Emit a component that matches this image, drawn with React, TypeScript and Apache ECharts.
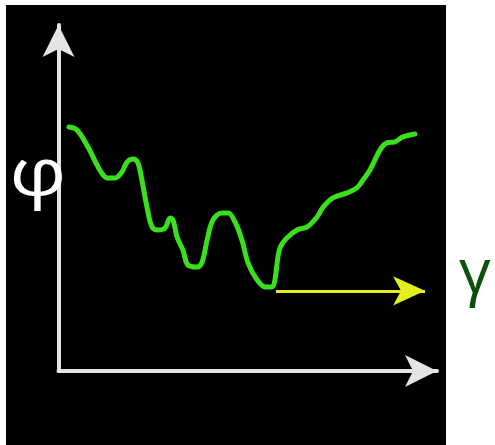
import React, { useEffect, useRef } from "react";
import * as echarts from "echarts";

// Curve φ(γ), in axis units
const gammaValues: number[] = [
  2.9, 5.1, 8.1, 11.4, 13.4, 15.6, 17.5, 18.9, 20.6, 21.9, 23.0, 24.4, 25.8, 27.4, 29.4,
  30.8, 31.6, 32.7, 34.3, 35.7, 38.2, 39.6, 41.0, 42.6, 45.1, 46.8, 48.7, 50.6, 52.3,
  54.8, 57.0, 58.9, 59.7, 60.3, 61.1, 63.0, 65.8, 68.6, 71.3, 73.0, 75.7, 79.6, 82.3,
  84.0, 85.9, 88.7, 90.6, 92.8, 95.0, 98.3,
];
const phiValues: number[] = [
  73.7, 72.8, 67.7, 60.7, 58.3, 58.3, 60.1, 63.1, 64.0, 62.8, 57.7, 49.5, 43.5, 42.6, 43.2,
  46.2, 45.6, 40.5, 36.6, 32.0, 31.4, 32.9, 39.6, 45.6, 47.7, 47.7, 45.0, 39.6, 32.6,
  27.5, 25.4, 25.4, 27.5, 32.6, 37.2, 40.2, 42.6, 43.5, 46.5, 49.5, 52.3, 53.8, 55.3,
  57.7, 60.7, 66.8, 68.9, 69.2, 70.7, 71.6,
];
// Horizontal arrow from the curve minimum
const arrowStart: [number, number] = [60.0, 24.2];
const arrowEnd: [number, number] = [101.1, 24.2];
const xMax = 104.4;
const yMax = 104.5;
const yLabel = "φ";
const xLabel = "γ";

export default function App() {
  const ref = useRef<HTMLDivElement>(null);
  useEffect(() => {
    if (!ref.current) return;
    const chart = echarts.init(ref.current, undefined, { renderer: "svg" });
    const axisLine = {
      show: true,
      symbol: ["none", "arrow"],
      symbolSize: [24, 32],
      lineStyle: { color: "#e4e4e4", width: 4 },
    };
    chart.setOption({
      animation: false,
      backgroundColor: "#ffffff",
      graphic: [
        {
          type: "rect",
          z: -10,
          shape: { x: 6, y: 5, width: 440, height: 440 },
          style: { fill: "#000000" },
          silent: true,
        },
        {
          type: "text",
          z: 10,
          x: 9.5,
          y: 136,
          scaleX: 1.2,
          style: {
            text: yLabel,
            fill: "#ffffff",
            font: "66px 'Open Sans'",
          },
        },
        {
          type: "text",
          z: 10,
          x: 459,
          y: 238,
          style: {
            text: xLabel,
            fill: "#0a520a",
            font: "500 62px 'Open Sans'",
          },
        },
      ],
      grid: { left: 58.5, right: 58, top: 25, bottom: 74, containLabel: false },
      xAxis: {
        type: "value",
        min: 0,
        max: xMax,
        axisLine,
        axisTick: { show: false },
        axisLabel: { show: false },
        splitLine: { show: false },
      },
      yAxis: {
        type: "value",
        min: 0,
        max: yMax,
        axisLine,
        axisTick: { show: false },
        axisLabel: { show: false },
        splitLine: { show: false },
      },
      series: [
        {
          type: "line",
          data: gammaValues.map((g, i) => [g, phiValues[i]]),
          smooth: 0.35,
          showSymbol: false,
          symbol: "none",
          lineStyle: { color: "#3ae01c", width: 5, cap: "round", join: "round" },
          markLine: {
            silent: true,
            symbol: ["none", "arrow"],
            symbolSize: [22, 32],
            label: { show: false },
            lineStyle: { color: "#e3ee1c", width: 3, type: "solid" },
            data: [[{ coord: arrowStart }, { coord: arrowEnd }]],
          },
        },
      ],
    });
    return () => chart.dispose();
  }, []);
  return (
    <div
      ref={ref}
      style={{ position: "absolute", left: 0, top: 0, width: 495, height: 445 }}
    />
  );
}
